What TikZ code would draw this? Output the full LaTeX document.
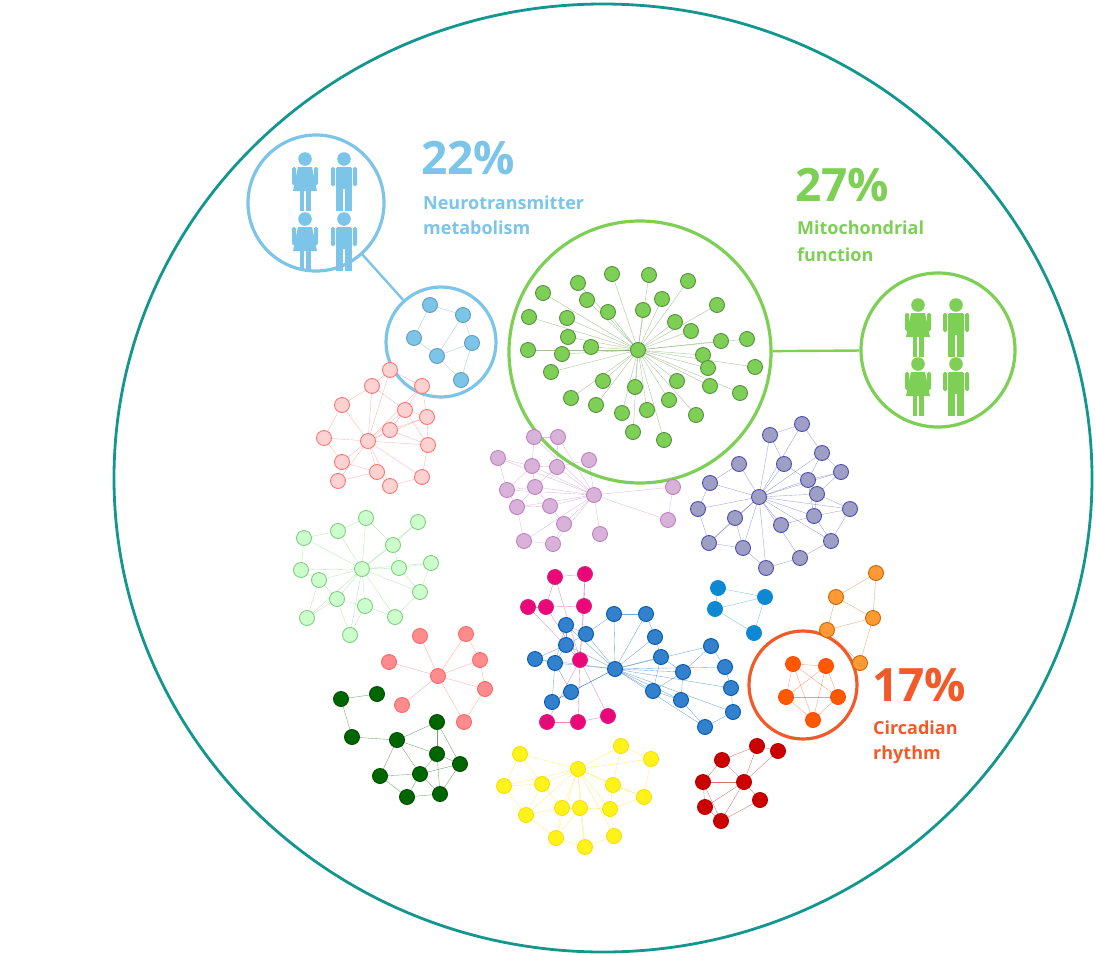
\documentclass[tikz,border=0pt]{standalone}
\usepackage{fontspec}
\setmainfont{Open Sans}
\usetikzlibrary{backgrounds}
\definecolor{teal1}{HTML}{12968E}
\definecolor{nblue}{HTML}{7CC4E8}
\definecolor{mgreen}{HTML}{7DCF55}
\definecolor{corange}{HTML}{F25A29}
\tikzset{
  dot/.style={circle,inner sep=0pt,minimum size=15pt,line width=0.9pt},
  edge/.style={line width=0.35pt,opacity=0.55},
  ring/.style={line width=3.2pt,fill=white},
  big/.style={font=\fontsize{46}{50}\selectfont\bfseries,anchor=west,inner sep=0pt},
  lab/.style={font=\fontsize{18}{22}\selectfont\bfseries,anchor=west,inner sep=0pt},
  female/.pic={
    \fill (0,-23) circle (6.8);
    \fill (-7,-15) -- (7,-15) -- (12,9) -- (-12,9) -- cycle;
    \fill[rounded corners=1.5pt] (-13,-15) rectangle (-9,3);
    \fill[rounded corners=1.5pt] (9,-15) rectangle (13,3);
    \fill (-5.5,9) rectangle (-1,29);
    \fill (1,9) rectangle (5.5,29);},
  male/.pic={
    \fill (0,-23) circle (6.8);
    \fill[rounded corners=1.5pt] (-8,-15) rectangle (8,7);
    \fill[rounded corners=1.5pt] (-13,-15) rectangle (-9,4);
    \fill[rounded corners=1.5pt] (9,-15) rectangle (13,4);
    \fill (-8,6) rectangle (-0.8,29);
    \fill (0.8,6) rectangle (8,29);}
}
% #1 prefix, #2 stroke, #3 fill, #4 hub index, #5 threshold, #6 list
\newcommand{\mycluster}[6]{%
  \foreach \x/\y [count=\i] in {#6} {\node[dot,draw=#2,fill=#3] (#1-\i) at (\x,\y) {};}
  \begin{pgfonlayer}{background}
  \foreach \x/\y [count=\i] in {#6} {%
    \foreach \u/\v [count=\j] in {#6} {%
      \ifnum\j>\i
        \pgfmathparse{(veclen(\x-\u,\y-\v)<#5)||(\i==#4)||(\j==#4)?1:0}%
        \ifnum\pgfmathresult=1 \draw[edge,#2] (#1-\i.center) -- (#1-\j.center);\fi
      \fi}}
  \end{pgfonlayer}}
\begin{document}
\begin{tikzpicture}[x=1pt,y=-1pt]
\useasboundingbox (0,0) rectangle (1096,956);
\begin{pgfonlayer}{background}
\draw[teal1,line width=2.8pt] (603,478) ellipse (489 and 474);
\node[circle,ring,draw=nblue,minimum size=136pt,inner sep=0] (nbig) at (316,203) {};
\node[circle,ring,draw=nblue,minimum size=110pt,inner sep=0] (nsmall) at (441,342) {};
\node[circle,ring,draw=mgreen,minimum size=154pt,inner sep=0] (gicon) at (938,350) {};
\node[circle,ring,draw=corange,minimum size=108pt,inner sep=0] (cring) at (803,685) {};
\node[circle,ring,draw=mgreen,minimum size=262pt,inner sep=0] (gbig) at (640,352) {};
\end{pgfonlayer}
\draw[nblue,line width=2.4pt] (nbig) -- (nsmall);
\draw[mgreen,line width=2.4pt] (gbig) -- (gicon);

% icons
\begin{scope}[nblue]
\pic at (305,182) {female}; \pic at (344,182) {male};
\pic at (305,242) {female}; \pic at (344,242) {male};
\end{scope}
\begin{scope}[mgreen]
\pic at (918,328) {female}; \pic at (956,328) {male};
\pic at (918,387) {female}; \pic at (956,387) {male};
\end{scope}

% texts
\node[big,text=nblue] (t22) at (421,158) {22\%};
\node[lab,text=nblue] (t22a) at (423,203) {Neurotransmitter};
\node[lab,text=nblue] (t22b) at (423,228) {metabolism};
\node[big,text=mgreen] (t27) at (795,185) {27\%};
\node[lab,text=mgreen] (t27a) at (797,228) {Mitochondrial};
\node[lab,text=mgreen] (t27b) at (797,255) {function};
\node[big,text=corange] (t17) at (872,685) {17\%};
\node[lab,text=corange] (t17a) at (873,728) {Circadian};
\node[lab,text=corange] (t17b) at (873,755) {rhythm};

% clusters
\mycluster{nb}{nblue!80!black}{nblue}{0}{50}{430/305,463/315,414/338,437/356,472/343,461/380}
\mycluster{gr}{mgreen!70!black}{mgreen}{1}{0}{638/350,543/293,578/283,612/274,649/275,688/281,717/305,587/300,608/312,643/310,662/299,529/317,567/318,675/322,691/331,747/339,568/337,528/350,562/354,591/347,721/341,703/355,755/367,551/372,603/381,635/387,677/381,708/368,710/386,740/393,571/398,596/405,622/413,647/410,669/400,696/415,633/432,664/440}
\mycluster{pk}{pink!60!red}{pink!70}{8}{42}{390/370,372/386,422/386,342/405,405/410,427/417,324/438,368/441,390/430,428/445,342/462,377/472,422/477,338/481,390/486}
\mycluster{pu}{violet!50}{violet!30}{9}{35}{534/437,558/437,498/458,532/466,557/467,589/460,507/490,535/487,594/495,673/487,517/507,550/506,564/524,524/541,553/544,600/534,668/520}
\mycluster{sb}{blue!40!gray}{blue!25!gray!60}{9}{38}{770/435,802/424,739/464,784/464,822/453,808/480,841/472,710/483,759/497,817/494,698/509,735/518,781/525,814/516,850/509,709/543,743/548,766/568,800/558,831/541}
\mycluster{lg}{green!45!gray!70}{green!20}{8}{40}{366/518,418/522,338/531,304/538,393/545,301/570,319/580,362/569,399/568,431/563,337/599,365/606,395/617,420/592,307/618,350/635}
\mycluster{bl}{blue!50!cyan!70!black}{blue!50!cyan!60!gray}{10}{40}{566/625,586/634,614/614,646/614,566/645,535/659,555/663,655/637,661/657,615/669,683/672,711/646,725/667,571/692,552/702,653/691,681/700,731/688,733/712,705/727}
\mycluster{mg}{magenta!80!black}{magenta!80!red}{6}{40}{555/577,585/574,528/607,546/607,584/606,580/660,547/722,578/722,608/716}
\mycluster{cy}{cyan!70!blue}{cyan!70!blue}{0}{55}{718/588,715/609,765/597,754/633}
\mycluster{or}{orange!80!black}{orange!80}{0}{55}{876/573,836/597,873/618,827/630,860/663}
\mycluster{cr}{orange!60!red}{orange!70!red}{0}{60}{793/664,826/666,786/697,838/697,813/720}
\mycluster{rd}{red!60}{red!45}{4}{40}{420/636,466/634,389/662,438/676,480/660,402/705,485/689,464/722}
\mycluster{dg}{green!30!black}{green!40!black}{0}{48}{341/699,377/694,437/722,352/737,397/740,437/754,380/776,420/774,460/764,407/797,440/794}
\mycluster{ye}{yellow!80!orange}{yellow!90}{4}{40}{520/754,621/746,651/759,578/769,504/786,542/784,613/785,644/797,562/808,580/808,610/809,526/815,556/838,585/847,614/836}
\mycluster{dr}{red!70!black}{red!80!black}{0}{48}{757/746,778/751,722/760,703/782,744/782,760/800,705/807,721/821}
\end{tikzpicture}
\end{document}
